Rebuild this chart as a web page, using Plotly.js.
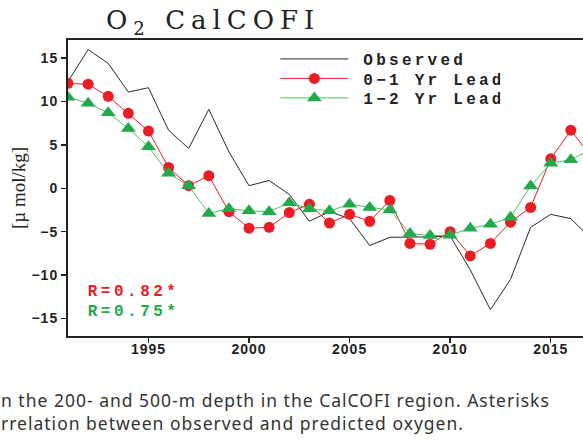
<!DOCTYPE html>
<html>
<head>
<meta charset="utf-8">
<script src="https://cdn.plot.ly/plotly-3.0.1.min.js"></script>
<style>
  html, body { margin: 0; padding: 0; overflow: hidden; background: #fff; }
  #chart { width: 640px; height: 440px; }
  .gtitle { letter-spacing: 6px; }
  .legendtext { letter-spacing: 3.25px; }
  .xtick text, .ytick text { letter-spacing: 1px; }
  .annotation[data-index="0"] text, .annotation[data-index="1"] text { letter-spacing: 3.5px; }
  .annotation[data-index="2"] text { letter-spacing: 1px; }
</style>
</head>
<body>
<div id="chart"></div>
<script>
const years = [1991,1992,1993,1994,1995,1996,1997,1998,1999,2000,2001,2002,2003,2004,2005,2006,2007,2008,2009,2010,2011,2012,2013,2014,2015,2016,2017];
const observed = [12.3,16.0,14.4,11.1,11.6,6.7,4.6,9.1,4.2,0.3,0.9,-0.7,-3.8,-2.7,-3.5,-6.6,-5.65,-5.65,-5.6,-5.5,-9.4,-14.0,-10.5,-4.5,-3.0,-3.5,-5.8];
const lead01 = [12.1,12.0,10.6,8.65,6.6,2.4,0.3,1.45,-2.7,-4.6,-4.5,-2.8,-1.85,-4.0,-3.0,-3.8,-1.4,-6.35,-6.45,-5.0,-7.8,-6.35,-3.9,-2.2,3.4,6.7,3.7];
const lead12 = [10.5,9.8,8.7,6.9,4.8,1.73,0.3,-2.9,-2.35,-2.6,-2.7,-1.66,-2.35,-2.6,-1.85,-2.2,-2.5,-5.2,-5.45,-5.4,-4.6,-4.15,-3.35,0.27,2.9,3.3,4.5];
const seriesNames = ["Observed", "0\u22121 Yr Lead", "1\u22122 Yr Lead"];
const rLabels = ["R=0.82*", "R=0.75*"];
const xTickVals = [1995, 2000, 2005, 2010, 2015];
const yTickVals = [-15, -10, -5, 0, 5, 10, 15];
const captionLines = ["n the 200- and 500-m depth in the CalCOFI region. Asterisks", "rrelation between observed and predicted oxygen."];

const red = '#ec1c24', green = '#22a94b', greenLine = '#4cc463';

const traces = [
  {x: years, y: observed, name: seriesNames[0], mode: 'lines', line: {color: '#2a2a2a', width: 1}},
  {x: years, y: lead01, name: seriesNames[1], mode: 'lines+markers', line: {color: red, width: 1},
   marker: {symbol: 'circle', size: 11, color: red}},
  {x: years, y: lead12, name: seriesNames[2], mode: 'lines+markers', line: {color: greenLine, width: 1},
   marker: {symbol: 'triangle-up', size: 13, color: green}}
];

const L = 68, W = 640, plotW = (2017.3 - 1991) * 20.13;
const R = W - L - plotW;
const T = 40, H = 440, plotH = 296;
function px(xp) { return (xp - L) / plotW; }
function py(yp) { return (T + plotH - yp) / plotH; }

const layout = {
  width: W, height: H,
  margin: {l: L, r: R, t: T, b: H - T - plotH, pad: 0},
  paper_bgcolor: '#fff', plot_bgcolor: '#fff',
  showlegend: true,
  title: {text: 'O<sub>2</sub> CalCOFI', font: {family: 'DejaVu Serif', size: 26, color: '#222'},
          x: px(106), xref: 'paper', xanchor: 'left', y: 1 - 20/440, yanchor: 'middle'},
  xaxis: {range: [1991, 2017.3], tickvals: xTickVals, ticks: 'outside', ticklen: 5, tickwidth: 1.5,
          tickcolor: '#222', showgrid: false, zeroline: false, showline: true, linecolor: '#222',
          linewidth: 2, mirror: true,
          tickfont: {family: 'Liberation Sans', size: 14, color: '#222', weight: 'bold'}},
  yaxis: {range: [-17.03, 17.1], tickvals: yTickVals, ticks: 'outside', ticklen: 5, tickwidth: 1.5,
          tickcolor: '#222', showgrid: false, zeroline: false, showline: true, linecolor: '#222',
          linewidth: 2, mirror: true,
          tickfont: {family: 'Liberation Sans', size: 14, color: '#222', weight: 'bold'},
          title: {text: '[\u00b5 mol/kg]', font: {family: 'Liberation Serif', size: 19, color: '#222'}, standoff: 1}},
  legend: {x: px(275.5), y: py(42), xanchor: 'left', yanchor: 'top', bgcolor: 'rgba(0,0,0,0)',
           itemwidth: 68, tracegroupgap: 0,
           font: {family: 'Liberation Mono', size: 16, color: '#222', weight: 'bold'}},
  annotations: [
    {text: rLabels[0], xref: 'paper', yref: 'paper', x: px(86 + 12), y: py(292), xanchor: 'left', yanchor: 'middle',
     showarrow: false, font: {family: 'Liberation Mono', size: 16, color: red, weight: 'bold'}},
    {text: rLabels[1], xref: 'paper', yref: 'paper', x: px(86 + 12), y: py(312), xanchor: 'left', yanchor: 'middle',
     showarrow: false, font: {family: 'Liberation Mono', size: 16, color: green, weight: 'bold'}},
    {text: captionLines.join('<br>'), xref: 'paper', yref: 'paper', x: px(-1), y: py(386), xanchor: 'left', yanchor: 'top',
     align: 'left', showarrow: false, font: {family: 'Noto Sans', size: 17.5, color: '#333'}}
  ]
};

Plotly.newPlot('chart', traces, layout, {displayModeBar: false, staticPlot: true}).then(function () {
  const items = document.querySelectorAll('.legend .traces');
  let y0 = null;
  items.forEach(function (g, i) {
    const tr = g.getAttribute('transform') || '';
    const m = tr.match(/translate\(\s*([-\d.e]+)[ ,]+([-\d.e]+)\s*\)/);
    if (!m) return;
    const x = parseFloat(m[1]), y = parseFloat(m[2]);
    if (y0 === null) y0 = y;
    g.setAttribute('transform', 'translate(' + x + ',' + (y0 + i * 19.5) + ')');
  });
  document.querySelectorAll('.legend .legendtext').forEach(function (t) {
    t.setAttribute('x', parseFloat(t.getAttribute('x') || 0) + 10);
  });
  document.querySelectorAll('.xtick text').forEach(function (t) {
    t.setAttribute('y', parseFloat(t.getAttribute('y') || 0) - 6);
  });
});
</script>
</body>
</html>
